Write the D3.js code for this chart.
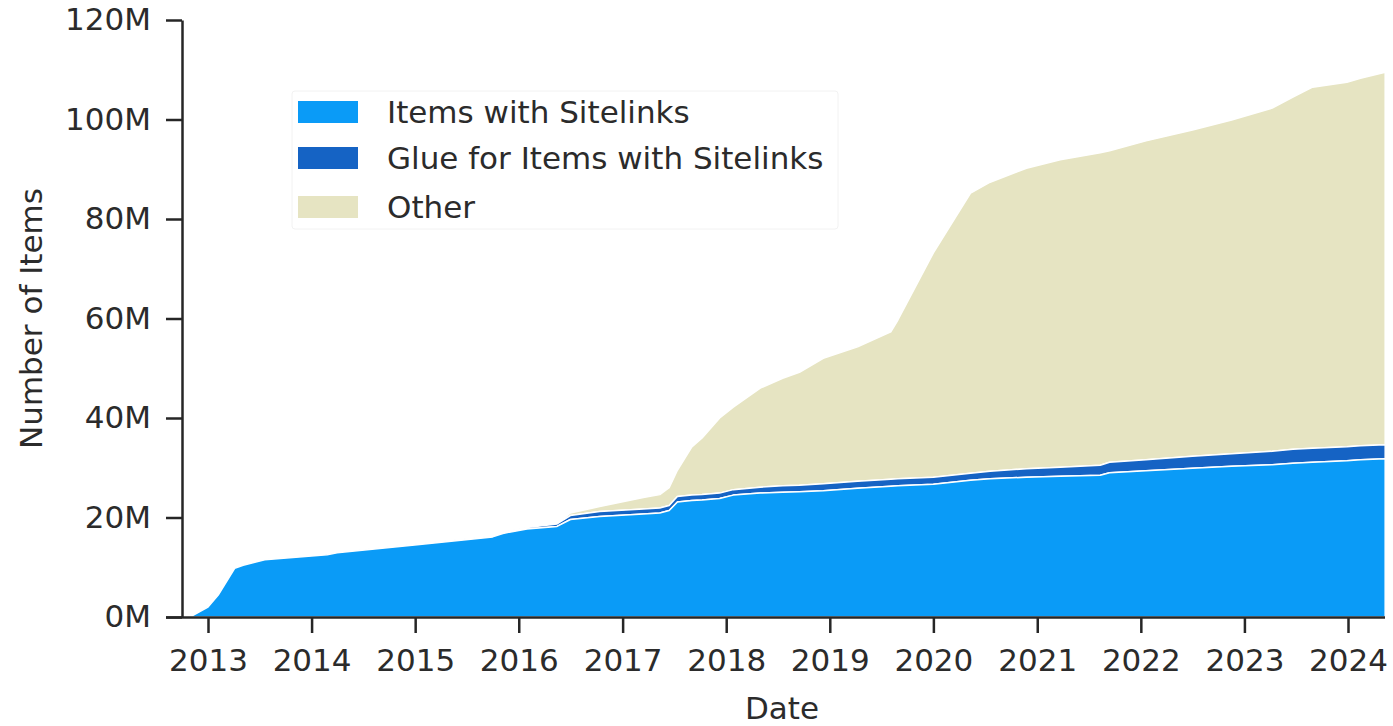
<!DOCTYPE html>
<html>
<head>
<meta charset="utf-8">
<script src="https://cdn.jsdelivr.net/npm/d3@7"></script>
<style>
  html, body { margin: 0; padding: 0; background: #ffffff; }
  svg { display: block; }
  text { font-family: "DejaVu Sans", sans-serif; fill: #2b2b2b; }
</style>
</head>
<body>
<svg id="chart" width="1393" height="726"></svg>
<script>
// ---- data (values in millions of items) ----
const dates = ["2012-10-29","2013-01-01","2013-02-06","2013-04-05","2013-05-05","2013-07-20",
  "2014-02-25","2014-04-01","2015-01-08","2015-10-01","2015-11-06","2016-01-30","2016-05-15",
  "2016-07-01","2016-10-12","2017-03-15","2017-05-12","2017-06-14","2017-07-13","2017-09-02",
  "2017-10-08","2017-12-09","2018-01-26","2018-05-01","2018-07-19","2018-09-16","2018-12-09",
  "2019-04-09","2019-08-04","2019-08-29","2020-01-01","2020-05-11","2020-07-19","2020-11-24",
  "2021-03-23","2021-08-11","2021-09-13","2022-01-19","2022-07-02","2022-11-17","2023-04-09",
  "2023-06-21","2023-08-29","2023-12-28","2024-02-14","2024-05-11"];
const sitelinks = [0,2.0,4.4,9.8,10.4,11.5,
  12.5,12.9,14.5,16.1,16.8,17.7,18.2,
  19.6,20.2,20.7,20.9,21.4,23.1,23.4,
  23.5,23.8,24.5,24.9,25.1,25.2,25.4,
  25.9,26.3,26.4,26.7,27.5,27.8,28.1,
  28.3,28.5,29.0,29.4,29.9,30.3,30.6,
  30.9,31.1,31.4,31.6,31.8];
const glue = [0,0,0,0.05,0.05,0.1,
  0.1,0.1,0.2,0.2,0.3,0.3,0.5,
  0.8,1.0,1.0,1.0,1.0,1.1,1.1,
  1.1,1.1,1.1,1.2,1.3,1.3,1.4,
  1.4,1.4,1.4,1.4,1.4,1.5,1.7,
  1.8,2.0,2.1,2.2,2.4,2.5,2.7,
  2.8,2.8,2.8,2.8,2.8];
const other = [0,0,0,0,0,0,
  0,0,0,0,0,0,0.1,
  0.5,1.0,2.3,2.7,3.6,5.3,9.7,
  11.4,15.1,16.6,19.9,21.6,22.7,25.2,
  27.0,29.6,31.9,45.1,56.3,58.1,60.4,
  61.8,62.8,62.6,64.1,65.6,67.1,69.0,
  70.8,72.6,73.3,73.9,74.9];
const seriesNames = ["Items with Sitelinks","Glue for Items with Sitelinks","Other"];
const seriesColors = ["#0a9bf7","#1563c4","#e6e4c2"];
const yTicks = [0,20,40,60,80,100,120];
const xTickYears = [2013,2014,2015,2016,2017,2018,2019,2020,2021,2022,2023,2024];

// ---- layout ----
const svg = d3.select("#chart");
const parse = d3.timeParse("%Y-%m-%d");
const mLeft = 182, mRight = 1385, mTop = 20, mBottom = 617;
const FS = 31;

const xRef = d3.scaleTime()
  .domain([new Date(2013,0,1), new Date(2024,0,1)])
  .range([208, 1348]);
const x = d3.scaleTime()
  .domain([xRef.invert(mLeft), xRef.invert(mRight)])
  .range([mLeft, mRight]);
const y = d3.scaleLinear().domain([0,120]).range([mBottom, mTop]);

const rows = dates.map((d,i) => ({date: parse(d), s: sitelinks[i], g: glue[i], o: other[i]}));
const stack = d3.stack().keys(["s","g","o"]);
const layers = stack(rows);

const area = d3.area()
  .x(d => x(d.data.date))
  .y0(d => y(d[0]))
  .y1(d => y(d[1]));

svg.append("g").selectAll("path")
  .data(layers.slice().reverse())
  .join("path")
  .attr("d", area)
  .attr("fill", (d) => seriesColors[d.index])
  .attr("stroke", "#ffffff")
  .attr("stroke-width", 1.5)
  .attr("stroke-linejoin", "round");

// ---- axes ----
const xAxis = d3.axisBottom(x)
  .tickValues(xTickYears.map(yr => new Date(yr,0,1)))
  .tickFormat(d3.timeFormat("%Y"))
  .tickSize(16).tickPadding(16).tickSizeOuter(0);
const gx = svg.append("g").attr("transform", `translate(0,${mBottom})`).call(xAxis);

const yAxis = d3.axisLeft(y)
  .tickValues(yTicks)
  .tickFormat(d => d + "M")
  .tickSize(16).tickPadding(15).tickSizeOuter(0);
const gy = svg.append("g").attr("transform", `translate(${mLeft},0)`).call(yAxis);

[gx, gy].forEach(g => {
  g.select(".domain").attr("stroke", "#262626").attr("stroke-width", 2.5);
  g.selectAll(".tick line").attr("stroke", "#262626").attr("stroke-width", 2.5);
  g.selectAll(".tick text").attr("font-size", FS).attr("font-family", "DejaVu Sans, sans-serif").attr("fill", "#2b2b2b");
});
gx.select(".domain").attr("d", `M${mLeft - 16},0.5H${mRight}`);

// axis labels
svg.append("text")
  .attr("x", 782).attr("y", 719)
  .attr("text-anchor", "middle")
  .attr("font-size", FS)
  .text("Date");
svg.append("text")
  .attr("transform", `translate(42,${(mTop+mBottom)/2}) rotate(-90)`)
  .attr("text-anchor", "middle")
  .attr("font-size", FS)
  .text("Number of Items");

// ---- legend ----
const lg = svg.append("g");
lg.append("rect")
  .attr("x", 292).attr("y", 91).attr("width", 546).attr("height", 138)
  .attr("fill", "#ffffff").attr("fill-opacity", 0.85)
  .attr("stroke", "#f2f2f2").attr("stroke-width", 1).attr("rx", 3);
const legendRows = [112, 158, 207];
seriesNames.forEach((name, i) => {
  lg.append("rect")
    .attr("x", 298).attr("y", legendRows[i] - 11)
    .attr("width", 60).attr("height", 22)
    .attr("fill", seriesColors[i]);
  lg.append("text")
    .attr("x", 387).attr("y", legendRows[i] + 11)
    .attr("font-size", FS)
    .text(name);
});
</script>
</body>
</html>
